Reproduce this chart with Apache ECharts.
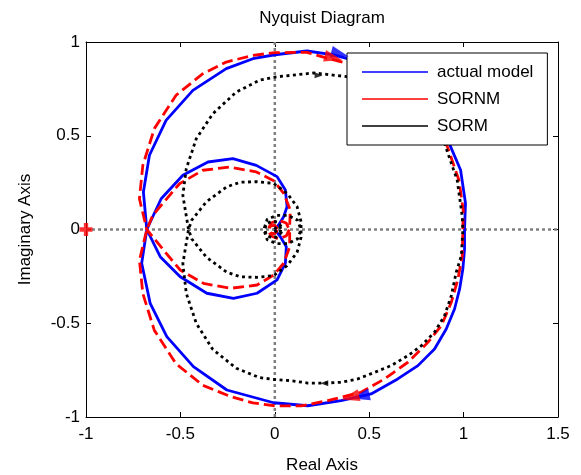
<!DOCTYPE html>
<html>
<head>
<meta charset="utf-8">
<script src="https://cdn.jsdelivr.net/npm/echarts@6/dist/echarts.min.js"></script>
<style>
html, body { margin: 0; padding: 0; background: #fff; }
#chart { width: 581px; height: 475px; }
</style>
</head>
<body>
<div id="chart"></div>
<script>
// Nyquist curves as [real, imag] pairs.
// Order: w = -inf .. 0 (conjugate branch) then w = 0 .. +inf
const actualModel = [
  [0,0],[0.029,-0.038],[0.061,-0.092],[0.056,-0.18],[0.012,-0.269],[-0.094,-0.34],[-0.219,-0.367],[-0.36,-0.34],[-0.501,-0.252],[-0.607,-0.145],[-0.678,0],
  [-0.696,0.2],[-0.664,0.396],[-0.576,0.582],[-0.434,0.742],[-0.257,0.858],[-0.116,0.911],[0,0.932],[0.171,0.952],[0.312,0.931],[0.51,0.877],[0.651,0.797],[0.758,0.726],[0.846,0.637],[0.9,0.54],[0.931,0.442],[0.984,0.317],[1.01,0.14],[1.005,0],
  [1.005,-0.104],[0.996,-0.211],[0.979,-0.317],[0.952,-0.424],[0.908,-0.531],[0.846,-0.637],[0.758,-0.726],[0.651,-0.797],[0.51,-0.877],[0.351,-0.913],[0.174,-0.94],[-0.006,-0.924],[-0.254,-0.856],[-0.431,-0.731],[-0.572,-0.571],[-0.66,-0.394],[-0.705,-0.18],[-0.678,0],
  [-0.602,0.164],[-0.487,0.289],[-0.354,0.36],[-0.222,0.378],[-0.098,0.342],[0.012,0.282],[0.056,0.211],[0.065,0.122],[0.047,0.068],[0.02,0.024],[0,0]
];
const sornm = [
  [0,0],[0.012,-0.01],[0,-0.022],[-0.02,-0.02],[-0.035,0],[-0.02,0.035],[0.02,0.05],[0.06,0.035],[0.077,0],
  [0.079,-0.024],[0.079,-0.092],[0.047,-0.18],[-0.006,-0.243],[-0.094,-0.296],[-0.236,-0.314],[-0.378,-0.287],[-0.501,-0.216],[-0.59,-0.109],[-0.678,0],
  [-0.717,0.164],[-0.699,0.342],[-0.638,0.538],[-0.523,0.716],[-0.381,0.831],[-0.257,0.893],[-0.116,0.929],[0,0.943],[0.17,0.945],[0.28,0.913],[0.457,0.868],[0.581,0.797],[0.705,0.708],[0.811,0.602],[0.882,0.513],[0.914,0.442],[0.975,0.264],[0.998,0.104],[0.996,0],
  [0.993,-0.14],[0.97,-0.264],[0.935,-0.388],[0.882,-0.513],[0.811,-0.602],[0.705,-0.708],[0.581,-0.797],[0.457,-0.868],[0.28,-0.913],[0.139,-0.941],[0,-0.94],[-0.116,-0.925],[-0.236,-0.89],[-0.381,-0.831],[-0.523,-0.716],[-0.638,-0.538],[-0.699,-0.342],[-0.717,-0.164],[-0.678,0],
  [-0.646,0.076],[-0.505,0.244],[-0.381,0.316],[-0.24,0.333],[-0.098,0.307],[-0.006,0.26],[0.047,0.193],[0.082,0.104],[0.079,0.024],[0.077,0],
  [0.06,-0.035],[0.02,-0.05],[-0.02,-0.035],[-0.035,0],[-0.02,0.02],[0,0.022],[0.012,0.01],[0,0]
];
const sorm = [
  [0,0],[0.01,0.02],[0.03,0.01],[0.035,-0.015],[0.015,-0.04],[-0.015,-0.045],[-0.045,-0.03],[-0.055,0.01],[-0.04,0.055],[0.01,0.075],[0.07,0.075],[0.12,0.05],[0.139,0],
  [0.139,-0.042],[0.118,-0.122],[0.065,-0.193],[-0.006,-0.246],[-0.094,-0.255],[-0.183,-0.252],[-0.254,-0.228],[-0.363,-0.147],[-0.44,-0.05],[-0.457,0],
  [-0.487,0.182],[-0.469,0.324],[-0.416,0.484],[-0.328,0.618],[-0.204,0.733],[-0.081,0.796],[0,0.813],[0.206,0.835],[0.383,0.815],[0.528,0.762],[0.616,0.726],[0.705,0.673],[0.776,0.62],[0.846,0.548],[0.899,0.46],[0.935,0.353],[0.966,0.264],[0.993,0.068],[0.996,0],
  [0.988,-0.14],[0.961,-0.228],[0.935,-0.353],[0.899,-0.46],[0.846,-0.548],[0.776,-0.62],[0.705,-0.673],[0.616,-0.726],[0.528,-0.762],[0.439,-0.797],[0.351,-0.815],[0.263,-0.819],[0.174,-0.819],[0.086,-0.806],[0,-0.8],[-0.081,-0.79],[-0.204,-0.74],[-0.328,-0.64],[-0.416,-0.5],[-0.469,-0.34],[-0.487,-0.182],[-0.457,0],
  [-0.44,0.05],[-0.363,0.147],[-0.254,0.228],[-0.183,0.252],[-0.094,0.255],[-0.006,0.246],[0.065,0.193],[0.118,0.122],[0.139,0.042],[0.139,0],
  [0.12,-0.05],[0.07,-0.075],[0.01,-0.075],[-0.04,-0.055],[-0.055,-0.01],[-0.045,0.03],[-0.015,0.045],[0.015,0.04],[0.035,0.015],[0.03,-0.01],[0.01,-0.02],[0,0]
];

// direction arrows (top branch, bottom branch)
const actualArrows = [[0.345, 0.935], [0.455, -0.89]];
const sornmArrows = [[0.31, 0.915], [0.40, -0.895]];
const sormArrows = [[0.232, 0.822], [0.262, -0.82]];

const criticalPoint = [[-1, 0]];
const xTicks = [-1, -0.5, 0, 0.5, 1, 1.5];
const yTicks = [-1, -0.5, 0, 0.5, 1];
const realAxisLine = [[xTicks[0], 0], [xTicks[xTicks.length - 1], 0]];
const imagAxisLine = [[0, yTicks[0]], [0, yTicks[yTicks.length - 1]]];

const FONT = '"Liberation Sans", Arial, sans-serif';
const BLUE = '#0000ff', RED = '#ff0000', BLACK = '#000000';

function axisBase(ticks, pos) {
  return {
    type: 'value',
    position: pos,
    min: ticks[0],
    max: ticks[ticks.length - 1],
    interval: ticks[1] - ticks[0],
    axisLine: { show: true, onZero: false, lineStyle: { color: '#000', width: 1 } },
    axisTick: { show: true, inside: true, length: 5, lineStyle: { color: '#000' } },
    axisLabel: { show: false },
    splitLine: { show: false }
  };
}

function arrows(pts, rots, color, size) {
  return {
    type: 'scatter',
    data: pts.map((p, i) => ({ value: p, symbolRotate: rots[i] })),
    symbol: 'triangle',
    symbolSize: size,
    itemStyle: { color: color },
    silent: true,
    clip: false,
    z: 5
  };
}

const xBottom = Object.assign(axisBase(xTicks, 'bottom'), {
  name: 'Real Axis', nameLocation: 'middle', nameGap: 40,
  nameTextStyle: { fontSize: 17, color: '#000', fontFamily: FONT },
  axisLabel: { show: true, fontSize: 17, color: '#000', fontFamily: FONT, margin: 9 }
});
const yLeft = Object.assign(axisBase(yTicks, 'left'), {
  name: 'Imaginary Axis', nameLocation: 'middle', nameGap: 52,
  nameTextStyle: { fontSize: 17, color: '#000', fontFamily: FONT },
  axisLabel: { show: true, fontSize: 17, color: '#000', fontFamily: FONT, margin: 6 }
});

let myChart = echarts.init(document.getElementById('chart'));
const option = {
  animation: false,
  backgroundColor: '#fff',
  title: {
    text: 'Nyquist Diagram',
    left: 322, top: 10, textAlign: 'center', padding: 0,
    textStyle: { fontSize: 17, fontWeight: 'normal', color: '#000', fontFamily: FONT }
  },
  grid: { left: 86, right: 23, top: 42, bottom: 58, outerBoundsMode: 'none' },
  legend: {
    data: ['actual model', 'SORNM', 'SORM'],
    orient: 'vertical',
    left: 347, top: 53,
    padding: [9, 14, 9, 15],
    itemGap: 7,
    itemWidth: 66,
    itemHeight: 1.5,
    icon: 'rect',
    backgroundColor: '#fff',
    borderColor: '#000',
    borderWidth: 1,
    borderRadius: 0,
    itemStyle: { borderWidth: 0 },
    textStyle: { fontSize: 17, color: '#000', fontFamily: FONT, lineHeight: 20, padding: [0, 0, 0, 4] }
  },
  xAxis: [xBottom, axisBase(xTicks, 'top')],
  yAxis: [yLeft, axisBase(yTicks, 'right')],
  series: [
    { type: 'line', data: realAxisLine, symbol: 'none', silent: true,
      lineStyle: { color: '#808080', width: 2.5, type: [3, 3] } },
    { type: 'line', data: imagAxisLine, symbol: 'none', silent: true,
      lineStyle: { color: '#808080', width: 2.5, type: [3, 3] } },
    { name: 'actual model', type: 'line', data: actualModel, symbol: 'none', color: BLUE,
      lineStyle: { color: BLUE, width: 2.8 } },
    { name: 'SORNM', type: 'line', data: sornm, symbol: 'none', color: RED,
      lineStyle: { color: RED, width: 2.8, type: [11, 5] } },
    { name: 'SORM', type: 'line', data: sorm, symbol: 'none', color: BLACK,
      lineStyle: { color: BLACK, width: 2.8, type: [3, 3.5] } },
    arrows(actualArrows, [-105, 103], BLUE, [12, 18]),
    arrows(sornmArrows, [-104, 104], RED, [12, 18]),
    arrows(sormArrows, [-92, 90], BLACK, [6, 8]),
    { type: 'scatter', data: criticalPoint, silent: true, clip: false,
      symbol: 'path://M4,0L8,0L8,4L12,4L12,8L8,8L8,12L4,12L4,8L0,8L0,4L4,4Z',
      symbolSize: 13, itemStyle: { color: RED }, z: 6 }
  ]
};
myChart.setOption(option);
</script>
</body>
</html>
